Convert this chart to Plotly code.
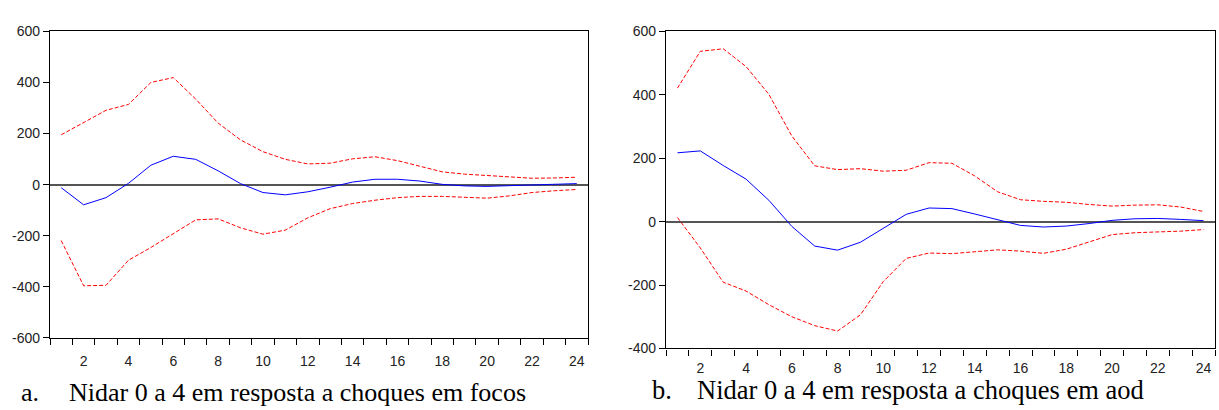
import plotly.graph_objects as go

periods = list(range(1, 25))

# Panel a: Nidar 0 a 4 em resposta a choques em focos
a_resp = [-12, -79, -51, 5, 76, 111, 99, 54, 4, -31, -40, -28, -10, 10, 21, 21, 14, 1, -5, -7, -4, -1, 1, 4]
a_upper = [195, 244, 291, 314, 400, 419, 335, 241, 175, 129, 99, 81, 84, 101, 109, 94, 72, 50, 41, 35, 29, 25, 26, 29]
a_lower = [-219, -396, -394, -296, -246, -193, -138, -134, -169, -194, -178, -130, -94, -74, -61, -51, -46, -46, -50, -53, -44, -31, -24, -19]

# Panel b: Nidar 0 a 4 em resposta a choques em aod
b_resp = [217, 223, 177, 134, 67, -15, -77, -90, -65, -20, 23, 43, 41, 24, 5, -12, -17, -14, -6, 4, 9, 10, 7, 3]
b_upper = [421, 537, 545, 489, 401, 270, 176, 164, 167, 159, 162, 186, 184, 144, 94, 69, 64, 61, 54, 49, 52, 53, 46, 32]
b_lower = [13, -83, -191, -219, -262, -300, -328, -345, -294, -189, -116, -99, -101, -96, -89, -93, -100, -87, -63, -41, -35, -33, -30, -25]

a_yticks = [-600, -400, -200, 0, 200, 400, 600]
b_yticks = [-400, -200, 0, 200, 400, 600]
x_labels = list(range(2, 25, 2))
x_ticks = [k + 0.5 for k in range(0, 25)]

caption_a = ("a.", "Nidar 0 a 4 em resposta a choques em focos")
caption_b = ("b.", "Nidar 0 a 4 em resposta a choques em aod")

W, H = 1219, 410
BLUE = "#0000FF"
RED = "#FF0000"
DASH = "4px,2px"

fig = go.Figure()

def add_panel(xa, ya, resp, up, lo):
    fig.add_trace(go.Scatter(x=periods, y=up, mode="lines", xaxis=xa, yaxis=ya,
                             line=dict(color=RED, width=1, dash=DASH), showlegend=False))
    fig.add_trace(go.Scatter(x=periods, y=lo, mode="lines", xaxis=xa, yaxis=ya,
                             line=dict(color=RED, width=1, dash=DASH), showlegend=False))
    fig.add_trace(go.Scatter(x=periods, y=resp, mode="lines", xaxis=xa, yaxis=ya,
                             line=dict(color=BLUE, width=1), showlegend=False))

add_panel("x", "y", a_resp, a_upper, a_lower)
add_panel("x2", "y2", b_resp, b_upper, b_lower)

tickfont = dict(family="Liberation Sans, Arial, sans-serif", size=14, color="#222222")

def xaxis_main(domain, anchor):
    return dict(domain=domain, anchor=anchor, range=[0.5, 24.5], tickmode="array",
                tickvals=x_ticks, showticklabels=False, ticks="outside", ticklen=6,
                tickcolor="#000000", tickwidth=1, showline=True, linecolor="#000000",
                linewidth=1.3, mirror=True, showgrid=False, zeroline=False, fixedrange=True)

def xaxis_labels(overlay, anchor, ticklen):
    return dict(overlaying=overlay, anchor=anchor, range=[0.5, 24.5], tickmode="array",
                tickvals=x_labels, ticktext=[str(v) for v in x_labels], ticks="outside",
                ticklen=ticklen, tickcolor="rgba(0,0,0,0)", showline=False, showgrid=False,
                zeroline=False, tickfont=tickfont, side="bottom")

def yaxis(domain, anchor, rng, tv):
    return dict(domain=domain, anchor=anchor, range=rng, tickmode="array", tickvals=tv,
                ticktext=[str(v) for v in tv],
                ticks="outside", ticklen=6, tickcolor="#000000", showline=True,
                linecolor="#000000", linewidth=1.3, mirror=True, showgrid=False,
                zeroline=True, zerolinecolor="#555555", zerolinewidth=1.6,
                tickfont=tickfont)

adom = [50 / W, 588 / W]
bdom = [666 / W, 1215 / W]
aydom = [(H - 343.3) / H, (H - 24.3) / H]
bydom = [(H - 354.3) / H, (H - 24.3) / H]

fig.update_layout(
    width=W, height=H, margin=dict(l=0, r=0, t=0, b=0),
    paper_bgcolor="white", plot_bgcolor="white",
    xaxis=xaxis_main(adom, "y"),
    yaxis=yaxis(aydom, "x", [-600, 600], a_yticks),
    xaxis2=xaxis_main(bdom, "y2"),
    yaxis2=yaxis(bydom, "x2", [-400, 600], b_yticks),
    xaxis3=xaxis_labels("x", "y", 10),
    xaxis4=xaxis_labels("x2", "y2", 7),
)

# invisible traces so label axes are active
fig.add_trace(go.Scatter(x=[1], y=[0], xaxis="x3", yaxis="y", mode="markers",
                         marker=dict(opacity=0), showlegend=False, hoverinfo="skip"))
fig.add_trace(go.Scatter(x=[1], y=[0], xaxis="x4", yaxis="y2", mode="markers",
                         marker=dict(opacity=0), showlegend=False, hoverinfo="skip"))

def caption(x_lab, x_txt, y_mid, parts, size):
    capfont = dict(family="Liberation Serif, Times New Roman, serif", size=size, color="#000000")
    fig.add_annotation(x=x_lab / W, y=1 - y_mid / H, xref="paper", yref="paper",
                       text=parts[0], showarrow=False, xanchor="left", yanchor="middle",
                       font=capfont, borderpad=0)
    fig.add_annotation(x=x_txt / W, y=1 - y_mid / H, xref="paper", yref="paper",
                       text=parts[1], showarrow=False, xanchor="left", yanchor="middle",
                       font=capfont, borderpad=0)

caption(20, 68, 400, caption_a, 26)
caption(651, 696, 398, caption_b, 26.5)

fig.write_html("out.html")
